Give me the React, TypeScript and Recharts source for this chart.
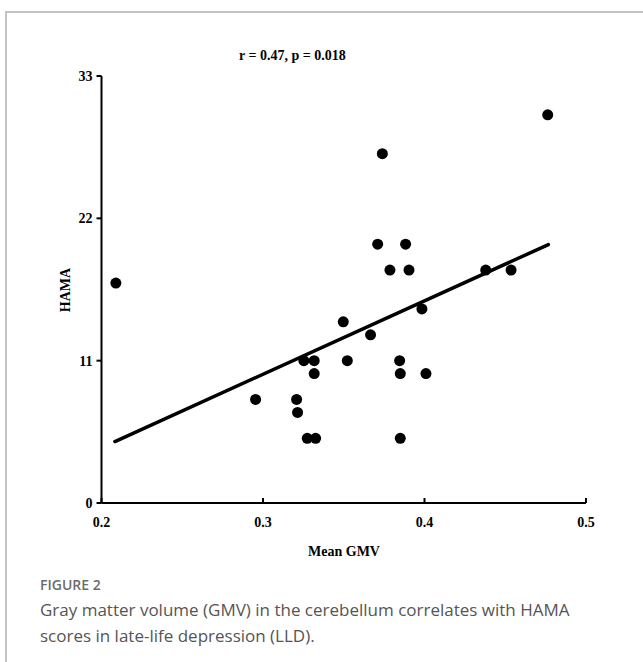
import React from 'react';
import { ScatterChart, Scatter, XAxis, YAxis, ReferenceLine } from 'recharts';

const gmv = [0.2089, 0.4763, 0.3739, 0.371, 0.3883, 0.3786, 0.3904, 0.4379, 0.4536, 0.3984, 0.3497, 0.3666, 0.3253, 0.3317, 0.3522, 0.3846, 0.3317, 0.385, 0.4009, 0.2954, 0.3208, 0.3214, 0.3274, 0.3326, 0.385];
const hama = [17, 30, 27, 20, 20, 18, 18, 18, 18, 15, 14, 13, 11, 11, 11, 11, 10, 10, 10, 8, 8, 7, 5, 5, 5];
const xTicks = [0.2, 0.3, 0.4, 0.5];
const yTicks = [0, 11, 22, 33];
const fitX = [0.2083, 0.4767];
const fitY = [4.75, 19.97];

const titleText = 'r = 0.47, p = 0.018';
const xTitle = 'Mean GMV';
const yTitle = 'HAMA';
const figLabel = 'FIGURE 2';
const captionLines = [
  'Gray matter volume (GMV) in the cerebellum correlates with HAMA',
  'scores in late-life depression (LLD).',
];

const points = gmv.map((x, i) => ({ x, y: hama[i] }));

const serif = '"Liberation Serif", "Times New Roman", serif';

const XTick = (props: any) => {
  const { x, y, payload } = props;
  return (
    <g>
      <line x1={x} x2={x} y1={y} y2={y - 5} stroke="#000" strokeWidth={2} />
      <text x={x} y={y + 24} textAnchor="middle" fontFamily={serif} fontWeight="bold" fontSize={14} fill="#000">
        {Number(payload.value).toFixed(1)}
      </text>
    </g>
  );
};

const YTick = (props: any) => {
  const { x, y, payload } = props;
  return (
    <g>
      <line x1={x} x2={x - 5} y1={y} y2={y} stroke="#000" strokeWidth={2} />
      <text x={x - 9} y={y + 5} textAnchor="end" fontFamily={serif} fontWeight="bold" fontSize={14} fill="#000">
        {payload.value}
      </text>
    </g>
  );
};

const Dot = (props: any) => {
  const { cx, cy } = props;
  return <circle cx={cx} cy={cy} r={5.5} fill="#000" />;
};

export default function App() {
  return (
    <div style={{ position: 'absolute', left: 0, top: 0, width: 643, height: 662, background: '#fff', overflow: 'hidden' }}>
      <div
        style={{
          position: 'absolute',
          left: 5,
          top: 11,
          width: 700,
          height: 700,
          borderLeft: '2px solid #c4c4c4',
          borderTop: '2px solid #c4c4c4',
        }}
      />
      <div style={{ position: 'absolute', left: 0, top: 0 }}>
        <ScatterChart width={643} height={662} margin={{ top: 76, right: 57, bottom: 119, left: 61.5 }}>
          <XAxis
            type="number"
            dataKey="x"
            domain={[0.2, 0.5]}
            ticks={xTicks}
            height={40}
            axisLine={{ stroke: '#000', strokeWidth: 2 }}
            tickLine={false}
            tickSize={0}
            tickMargin={0}
            tick={<XTick />}
            allowDataOverflow
          />
          <YAxis
            type="number"
            dataKey="y"
            domain={[0, 33]}
            ticks={yTicks}
            width={40}
            axisLine={{ stroke: '#000', strokeWidth: 2 }}
            tickLine={false}
            tickSize={0}
            tickMargin={0}
            tick={<YTick />}
            allowDataOverflow
          />
          <ReferenceLine
            segment={[
              { x: fitX[0], y: fitY[0] },
              { x: fitX[1], y: fitY[1] },
            ]}
            stroke="#000"
            strokeWidth={3.5}
            strokeLinecap="round"
            ifOverflow="visible"
          />
          <Scatter data={points} fill="#000" shape={<Dot />} isAnimationActive={false} />
        </ScatterChart>
      </div>
      <svg width={643} height={662} style={{ position: 'absolute', left: 0, top: 0, pointerEvents: 'none' }}>
        <text x={239} y={60} fontFamily={serif} fontWeight="bold" fontSize={14} fill="#000">
          {titleText}
        </text>
        <text
          x={0}
          y={0}
          transform="translate(70 290) rotate(-90)"
          textAnchor="middle"
          fontFamily={serif}
          fontWeight="bold"
          fontSize={14}
          fill="#000"
        >
          {yTitle}
        </text>
        <text x={344} y={556} textAnchor="middle" fontFamily={serif} fontWeight="bold" fontSize={14} fill="#000">
          {xTitle}
        </text>
      </svg>
      <div
        style={{
          position: 'absolute',
          left: 40,
          top: 576,
          fontFamily: '"Open Sans", "Noto Sans", sans-serif',
          color: '#6b6b6b',
          fontWeight: 600,
          fontSize: 14,
          lineHeight: '18px',
        }}
      >
        {figLabel}
      </div>
      <div
        style={{
          position: 'absolute',
          left: 40,
          top: 597,
          width: 600,
          fontFamily: '"Open Sans", "Noto Sans", sans-serif',
          color: '#555',
          fontWeight: 400,
          fontSize: 17,
          lineHeight: '26px',
        }}
      >
        {captionLines.map((l, i) => (
          <div key={i}>{l}</div>
        ))}
      </div>
    </div>
  );
}
